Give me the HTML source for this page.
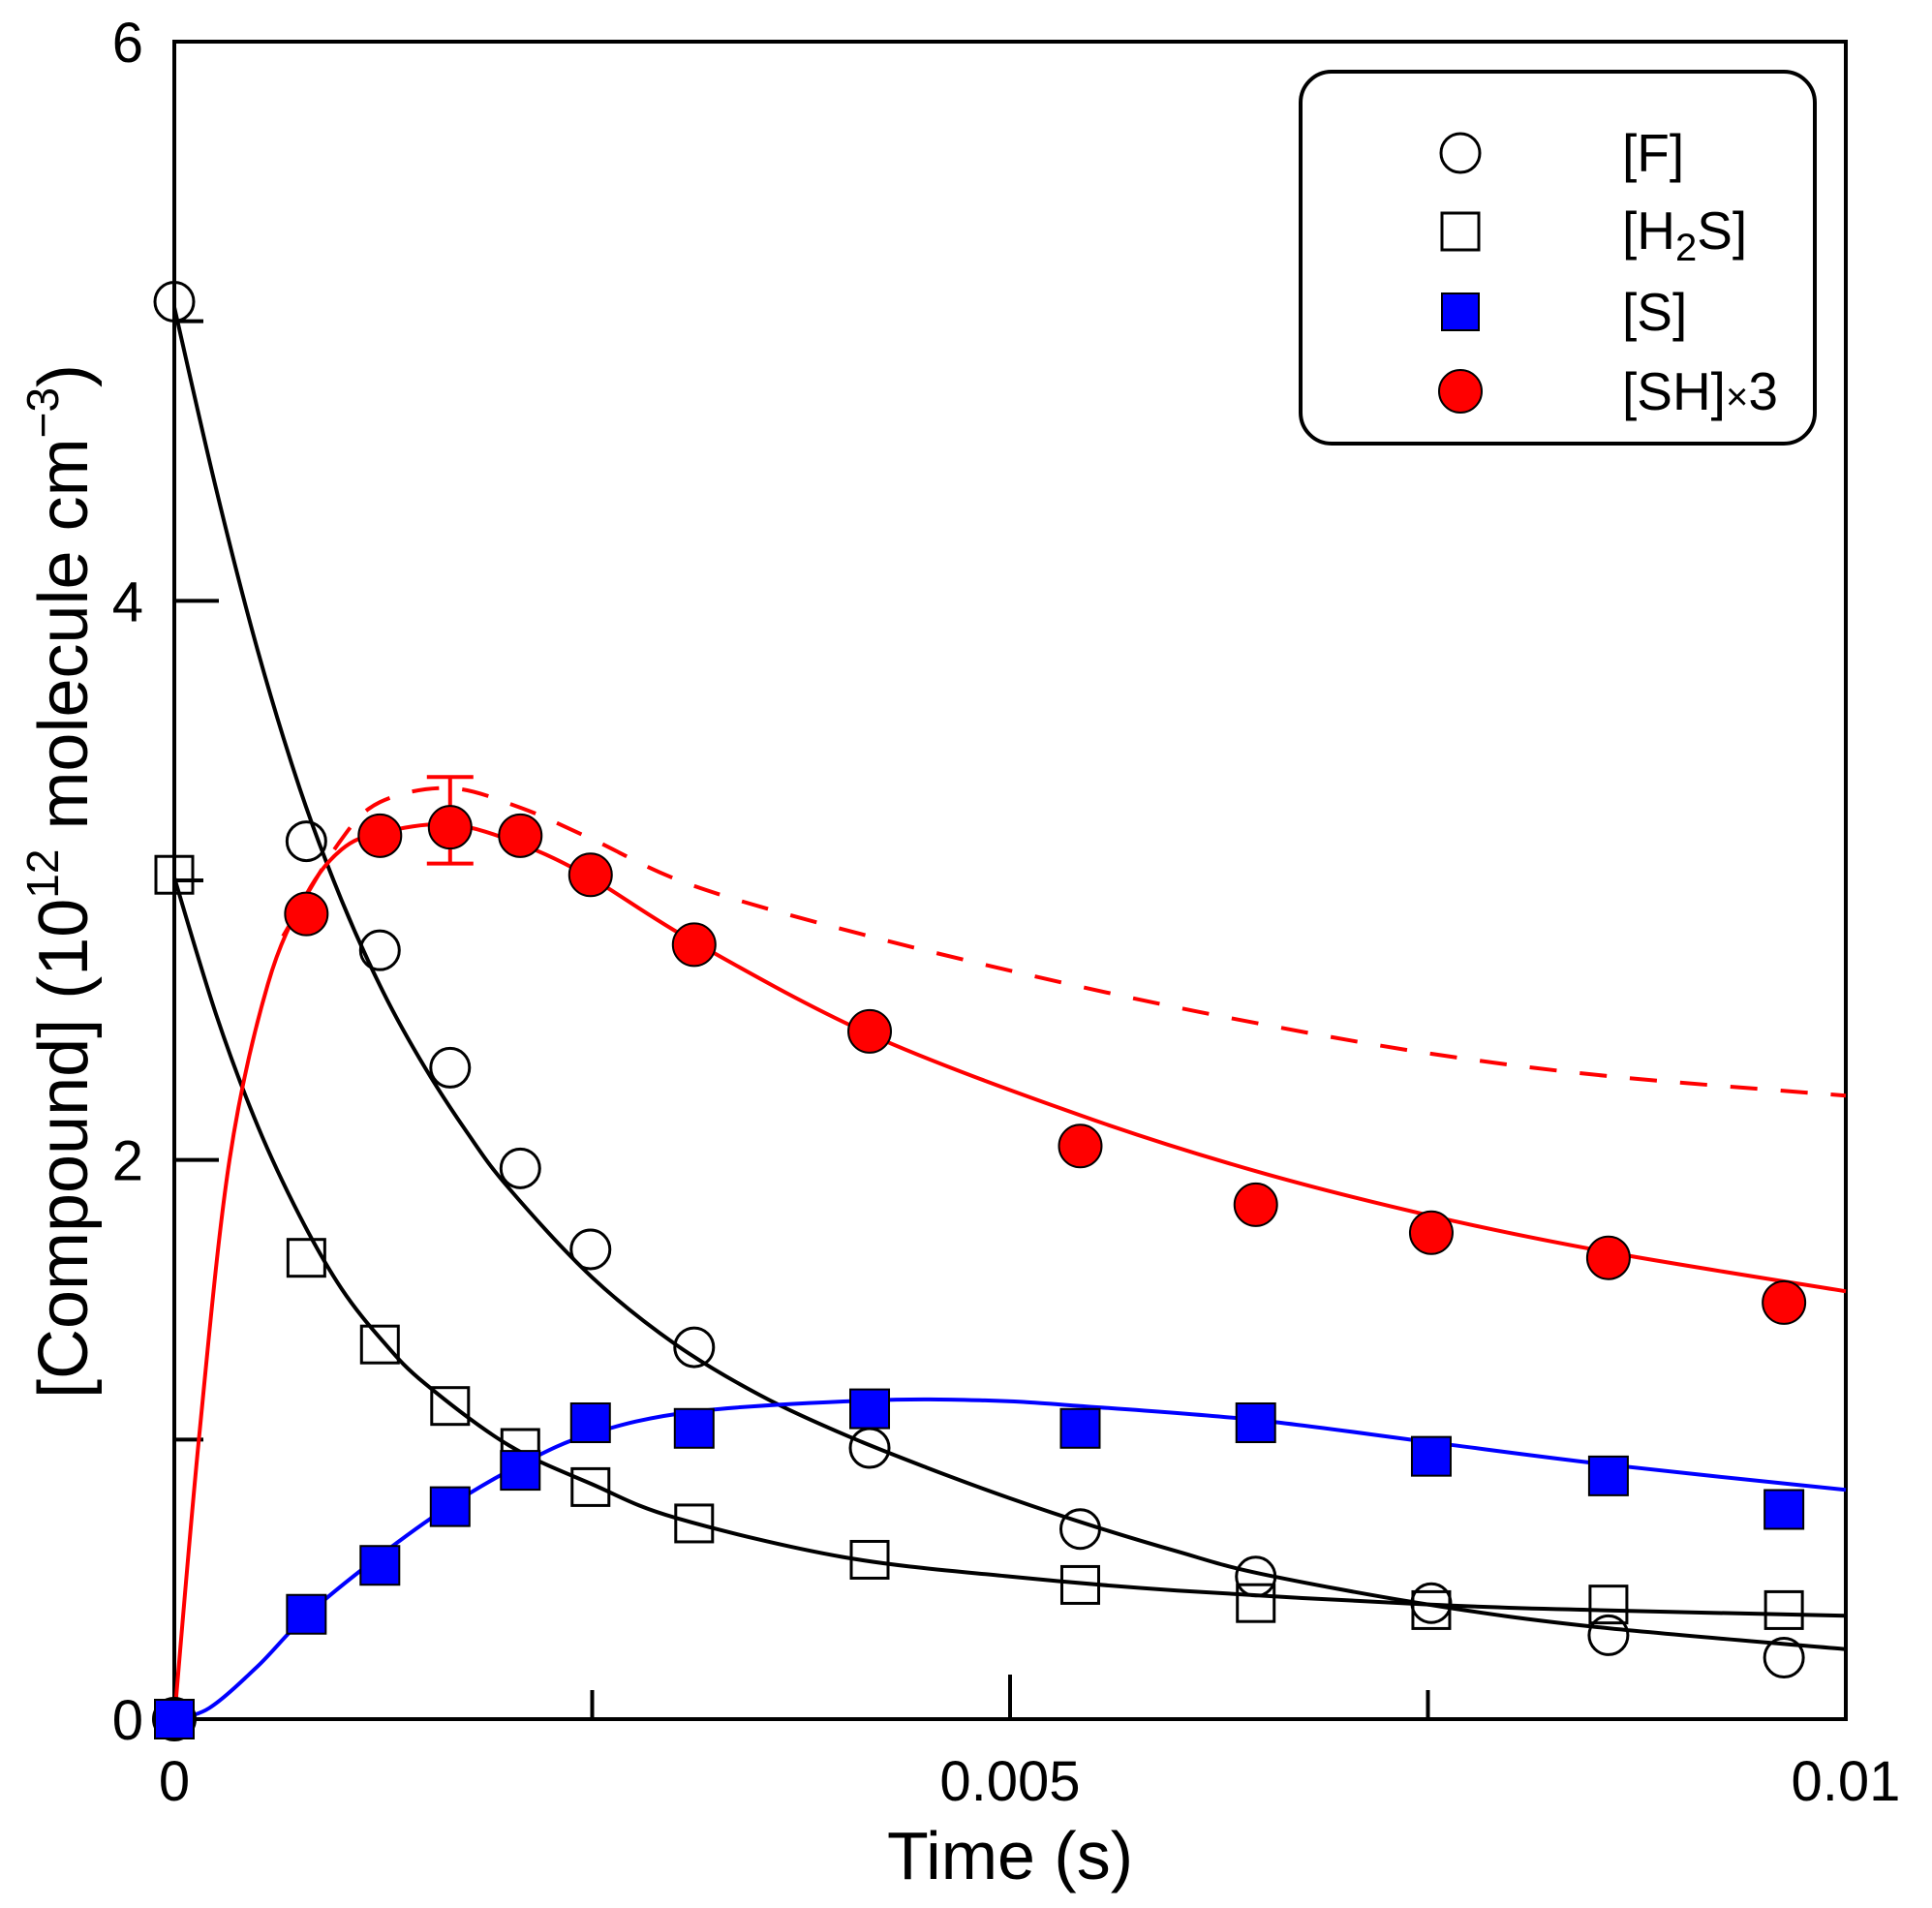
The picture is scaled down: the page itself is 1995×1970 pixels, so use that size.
<!DOCTYPE html>
<html><head><meta charset="utf-8"><style>
html,body{margin:0;padding:0;background:#fff;}
svg{display:block;font-family:"Liberation Sans",Arial,sans-serif;}
</style></head><body>
<svg id="chart" width="1995" height="1970" viewBox="0 0 1995 1970" xmlns="http://www.w3.org/2000/svg">
<g id="plot"></g>
<text x="1043" y="1940" font-size="70" text-anchor="middle">Time (s)</text>
<text transform="translate(90,910) rotate(-90)" font-size="72" text-anchor="middle">[Compound] (10<tspan font-size="46" dy="-30">12</tspan><tspan dy="30"> molecule cm</tspan><tspan font-size="46" dy="-30">−3</tspan><tspan dy="30">)</tspan></text>
<g>
<rect x="1343" y="74" width="531" height="384" rx="32" fill="none" stroke="#000" stroke-width="4"/>
<circle cx="1508" cy="158" r="20" fill="#fff" stroke="#000" stroke-width="3"/>
<text x="1675" y="177" font-size="55">[F]</text>
<rect x="1489" y="220" width="38" height="38" fill="#fff" stroke="#000" stroke-width="3"/>
<text x="1675" y="257" font-size="55">[H<tspan font-size="40" dy="12">2</tspan><tspan dy="-12">S]</tspan></text>
<rect x="1489" y="303" width="38" height="38" fill="#0000ff" stroke="#000" stroke-width="2"/>
<text x="1675" y="341" font-size="55">[S]</text>
<circle cx="1508" cy="404" r="22" fill="#ff0000" stroke="#000" stroke-width="2"/>
<text x="1675" y="423" font-size="55">[SH]<tspan font-size="40">×</tspan>3</text>
</g>
</svg>
<script>
const times=[0,0.00079,0.00123,0.00165,0.00207,0.00249,0.00311,0.00416,0.00542,0.00647,0.00752,0.00858,0.00963];
const fVals=[5.07,3.14,2.75,2.33,1.97,1.68,1.33,0.97,0.68,0.51,0.415,0.30,0.22];
const h2sVals=[3.02,1.65,1.34,1.12,0.97,0.83,0.70,0.57,0.48,0.415,0.39,0.41,0.39];
const sVals=[0,0.375,0.55,0.76,0.89,1.06,1.04,1.11,1.04,1.06,0.94,0.87,0.75];
const shVals=[0,2.88,3.16,3.19,3.16,3.02,2.77,2.46,2.05,1.84,1.74,1.65,1.49];
const shErrT=0.00165, shErrLo=3.06, shErrHi=3.37;
const fFitT=[0,0.00025,0.0005,0.00075,0.001,0.00125,0.0015,0.00175,0.002,0.0025,0.003,0.0035,0.004,0.0045,0.005,0.0055,0.006,0.0065,0.0075,0.0085,0.01];
const fFitV=[5.05,4.40,3.82,3.33,2.93,2.60,2.33,2.10,1.90,1.58,1.34,1.16,1.02,0.90,0.79,0.69,0.60,0.52,0.41,0.33,0.25];
const h2sFitT=[0,0.00025,0.0005,0.00075,0.001,0.00125,0.0015,0.002,0.0025,0.003,0.004,0.005,0.006,0.0075,0.0085,0.01];
const h2sFitV=[3.01,2.52,2.12,1.80,1.54,1.35,1.20,0.98,0.84,0.72,0.58,0.51,0.46,0.41,0.39,0.37];
const sFitT=[0,0.00021,0.0005,0.00079,0.00122,0.00164,0.00207,0.00249,0.00311,0.00416,0.00485,0.00542,0.00647,0.00752,0.00858,0.01];
const sFitV=[0,0.04,0.19,0.37,0.58,0.76,0.91,1.02,1.10,1.14,1.14,1.12,1.07,0.99,0.91,0.82];
const shFitT=[0,0.00015,0.00033,0.00056,0.00079,0.001,0.00123,0.00165,0.00207,0.00249,0.00311,0.00416,0.00542,0.00647,0.00752,0.00858,0.01];
const shFitV=[0,1.02,2.0,2.63,2.95,3.11,3.17,3.20,3.13,3.01,2.78,2.45,2.16,1.96,1.80,1.67,1.53];
const shDashT=[0.00065,0.00098,0.00123,0.00165,0.00207,0.00249,0.00311,0.00416,0.00542,0.00647,0.00752,0.00858,0.01];
const shDashV=[2.80,3.13,3.28,3.33,3.26,3.15,2.98,2.80,2.62,2.49,2.38,2.30,2.23];
const yTicks=[0,2,4,6], yMinor=[1,3,5], xTicks=[0,0.005,0.01], xTickLabels=["0","0.005","0.01"], xMinor=[0.0025,0.0075];

const L=180,R=1906,T=43,B=1775;
const X=t=>L+t/0.01*(R-L);
const Y=v=>B-v/6*(B-T);
const NS="http://www.w3.org/2000/svg";
const g=document.getElementById('plot');
function mk(tag,attrs){const e=document.createElementNS(NS,tag);for(const k in attrs)e.setAttribute(k,attrs[k]);g.appendChild(e);return e;}
function smoothPath(ts,vs){
  const p=ts.map((t,i)=>[X(t),Y(vs[i])]);
  let d='M'+p[0][0].toFixed(1)+','+p[0][1].toFixed(1);
  for(let i=0;i<p.length-1;i++){
    const p0=p[i-1]||p[i],p1=p[i],p2=p[i+1],p3=p[i+2]||p2;
    const c1=[p1[0]+(p2[0]-p0[0])/6,p1[1]+(p2[1]-p0[1])/6];
    const c2=[p2[0]-(p3[0]-p1[0])/6,p2[1]-(p3[1]-p1[1])/6];
    d+='C'+c1.map(n=>n.toFixed(1)).join(',')+' '+c2.map(n=>n.toFixed(1)).join(',')+' '+p2[0].toFixed(1)+','+p2[1].toFixed(1);
  }
  return d;
}
function curve(ts,vs,color,name,dash){
  const e=mk('path',{d:smoothPath(ts,vs),fill:'none',stroke:color,'stroke-width':4,'stroke-linejoin':'round'});
  if(dash)e.setAttribute('stroke-dasharray',dash);
  
  
}
const fr=mk('rect',{x:L,y:T,width:R-L,height:B-T,fill:'none',stroke:'#000','stroke-width':4});


yTicks.forEach(v=>{
  const tk=mk('line',{x1:L,x2:L+46,y1:Y(v),y2:Y(v),stroke:'#000','stroke-width':4});
  
  
  const tx=mk('text',{x:L-32,y:Y(v)+21,'font-size':58,'text-anchor':'end'});
  tx.textContent=String(v);
  
  
});
yMinor.forEach(v=>{
  const tk=mk('line',{x1:L,x2:L+30,y1:Y(v),y2:Y(v),stroke:'#000','stroke-width':4});
  
  
});
xTicks.forEach((t,i)=>{
  const tk=mk('line',{x1:X(t),x2:X(t),y1:B,y2:B-46,stroke:'#000','stroke-width':4});
  
  
  const tx=mk('text',{x:X(t),y:B+84,'font-size':58,'text-anchor':'middle'});
  tx.textContent=xTickLabels[i];
  
  
});
xMinor.forEach(t=>{
  const tk=mk('line',{x1:X(t),x2:X(t),y1:B,y2:B-30,stroke:'#000','stroke-width':4});
  
  
});
curve(fFitT,fFitV,'#000','f-fit-line');
curve(h2sFitT,h2sFitV,'#000','h2s-fit-line');
curve(sFitT,sFitV,'#0000ff','s-fit-line');
curve(shFitT,shFitV,'#ff0000','sh-fit-line');
curve(shDashT,shDashV,'#ff0000','sh-dashed-line','28,24');
const eb=mk('path',{d:`M${X(shErrT)},${Y(shErrHi)}V${Y(shErrLo)}M${X(shErrT)-24},${Y(shErrHi)}h48M${X(shErrT)-24},${Y(shErrLo)}h48`,stroke:'#ff0000','stroke-width':4,fill:'none'});


times.forEach((t,i)=>{
  const c=mk('circle',{cx:X(t),cy:Y(fVals[i]),r:20,fill:'none',stroke:'#000','stroke-width':3});
  
  
  const q=mk('rect',{x:X(t)-19,y:Y(h2sVals[i])-19,width:38,height:38,fill:'none',stroke:'#000','stroke-width':3});
  
  
});
times.forEach((t,i)=>{
  const c=mk('circle',{cx:X(t),cy:Y(shVals[i]),r:22,fill:'#ff0000',stroke:'#000','stroke-width':2});
  
  
});
times.forEach((t,i)=>{
  const q=mk('rect',{x:X(t)-20,y:Y(sVals[i])-20,width:40,height:40,fill:'#0000ff',stroke:'#000','stroke-width':2});
  
  
});
</script>
</body></html>
